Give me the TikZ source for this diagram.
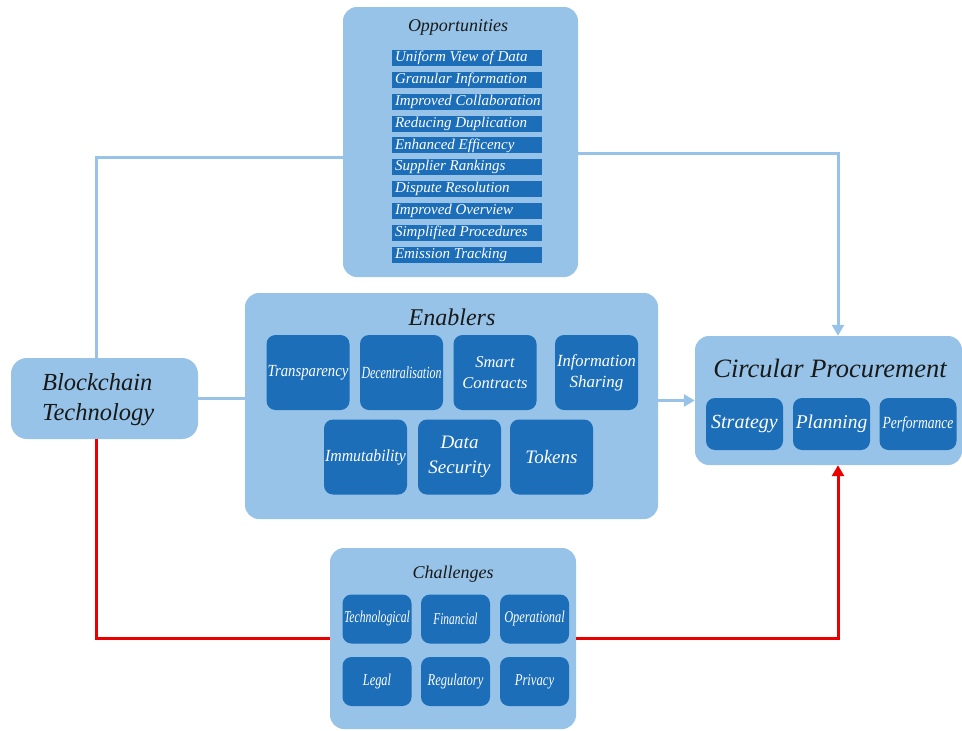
\documentclass[tikz,border=0pt]{standalone}
\usepackage{fontspec}
\setmainfont{Liberation Serif}
\usetikzlibrary{arrows.meta}
\definecolor{paleblue}{RGB}{150,195,231}
\definecolor{deepblue}{RGB}{28,110,184}
\definecolor{titleink}{RGB}{25,25,25}
\definecolor{alarmred}{RGB}{235,0,0}
\newcommand{\squeezetext}[2]{\scalebox{#1}[1]{#2}}
\tikzset{
  groupbox/.style={draw=none, fill=paleblue, rounded corners=14pt, inner sep=0pt},
  itembox/.style={draw=none, fill=deepblue, rounded corners=9pt, inner sep=1pt,
    text=white, font=\itshape, align=center},
  bar/.style={draw=none, fill=deepblue, inner sep=0pt, minimum width=150pt,
    minimum height=16pt, text=white, font=\itshape\fontsize{15}{15}\selectfont},
  grouptitle/.style={text=titleink, font=\itshape, inner sep=0pt},
  bluelink/.style={draw=paleblue, line width=3pt},
  redlink/.style={draw=alarmred, line width=3pt},
  tip/.style={-{Triangle[width=12pt,length=11pt]}}
}
\begin{document}
\begin{tikzpicture}[x=1pt,y=-1pt]
\useasboundingbox (0,0) rectangle (962,731);

% ---------- Opportunities ----------
\node[groupbox, minimum width=235pt, minimum height=270pt] (opp) at (460.5,142) {};
\node[grouptitle, font=\itshape\fontsize{18}{19}\selectfont] (opptitle) at (458,27) {Opportunities};
\foreach \label [count=\i] in {Uniform View of Data, Granular Information,
  Improved Collaboration, Reducing Duplication, Enhanced Efficency,
  Supplier Rankings, Dispute Resolution, Improved Overview,
  Simplified Procedures, Emission Tracking}
  \node[bar] (op\i) at (467,{58+(\i-1)*21.85}) {\makebox[144pt][l]{\label}};

% ---------- Enablers ----------
\node[groupbox, minimum width=413pt, minimum height=226pt] (en) at (451.5,406) {};
\node[grouptitle, font=\itshape\fontsize{24}{26}\selectfont] (entitle) at (452,317) {Enablers};
\tikzset{enitem/.style={itembox, minimum width=83pt, minimum height=75pt,
  font=\itshape\fontsize{17}{21}\selectfont}}
\node[enitem] (transp) at (308,372.5) {\squeezetext{0.87}{Transparency}};
\node[enitem] (decent) at (401.5,372.5) {\squeezetext{0.7}{Decentralisation}};
\node[enitem, font=\itshape\fontsize{16.5}{21}\selectfont] (smart) at (495,372.5) {Smart\\Contracts};
\node[enitem] (info)   at (596.5,372.5) {\squeezetext{0.97}{Information}\\Sharing};
\node[enitem] (immut)  at (365.5,457) {\squeezetext{0.93}{Immutability}};
\node[enitem, font=\itshape\fontsize{19}{25}\selectfont] (datasec) at (459.5,457) {Data\\Security};
\node[enitem, font=\itshape\fontsize{19}{22}\selectfont] (tokens)  at (551.5,457) {Tokens};

% ---------- Blockchain Technology ----------
\node[groupbox, rounded corners=16pt, minimum width=187pt, minimum height=81pt] (bt) at (104.5,398.5) {};
\node[grouptitle, font=\itshape\fontsize{24.5}{30}\selectfont, align=left, anchor=west]
  (bttext) at (42,400) {Blockchain\\Technology};

% ---------- Circular Procurement ----------
\node[groupbox, minimum width=267pt, minimum height=129pt] (cp) at (828.5,400.5) {};
\node[grouptitle, font=\itshape\fontsize{26.5}{28}\selectfont] (cptitle) at (830,368) {Circular Procurement};
\tikzset{cpitem/.style={itembox, minimum width=77pt, minimum height=52pt,
  font=\itshape\fontsize{19.5}{22}\selectfont}}
\node[cpitem, font=\itshape\fontsize{20}{22}\selectfont] (strat) at (744.5,424) {Strategy};
\node[cpitem] (plan)  at (831.5,424) {Planning};
\node[cpitem, font=\itshape\fontsize{17}{20}\selectfont] (perf) at (918,424) {\squeezetext{0.8}{Performance}};

% ---------- Challenges ----------
\node[groupbox, minimum width=246pt, minimum height=181pt] (ch) at (453,638.5) {};
\node[grouptitle, font=\itshape\fontsize{18}{19}\selectfont] (chtitle) at (453,574) {Challenges};
\tikzset{chitem/.style={itembox, minimum width=69pt, minimum height=49pt,
  font=\itshape\fontsize{16.5}{18}\selectfont}}
\node[chitem] (tech)  at (377,619) {\squeezetext{0.71}{Technological}};
\node[chitem] (fin)   at (455.5,619) {\squeezetext{0.69}{Financial}};
\node[chitem] (oper)  at (534.5,619) {\squeezetext{0.75}{Operational}};
\node[chitem] (legal) at (377,681.5) {\squeezetext{0.75}{Legal}};
\node[chitem] (regul) at (455.5,681.5) {\squeezetext{0.76}{Regulatory}};
\node[chitem] (priv)  at (534.5,681.5) {\squeezetext{0.77}{Privacy}};

% ---------- connectors ----------
\draw[bluelink] ([xshift=-8.5pt]bt.north) |- ([yshift=-15pt]opp.west);
\draw[bluelink, tip] ([yshift=-11pt]opp.east) -| ([xshift=9.5pt]cp.north);
\draw[bluelink] (bt.east) -- (bt.east -| en.west);
\draw[bluelink, tip] (en.east |- cp.west) -- (cp.west);
\draw[redlink] ([xshift=-8.5pt]bt.south) |- (ch.west);
\draw[redlink, tip] (ch.east) -| ([xshift=9.5pt]cp.south);
\end{tikzpicture}
\end{document}
